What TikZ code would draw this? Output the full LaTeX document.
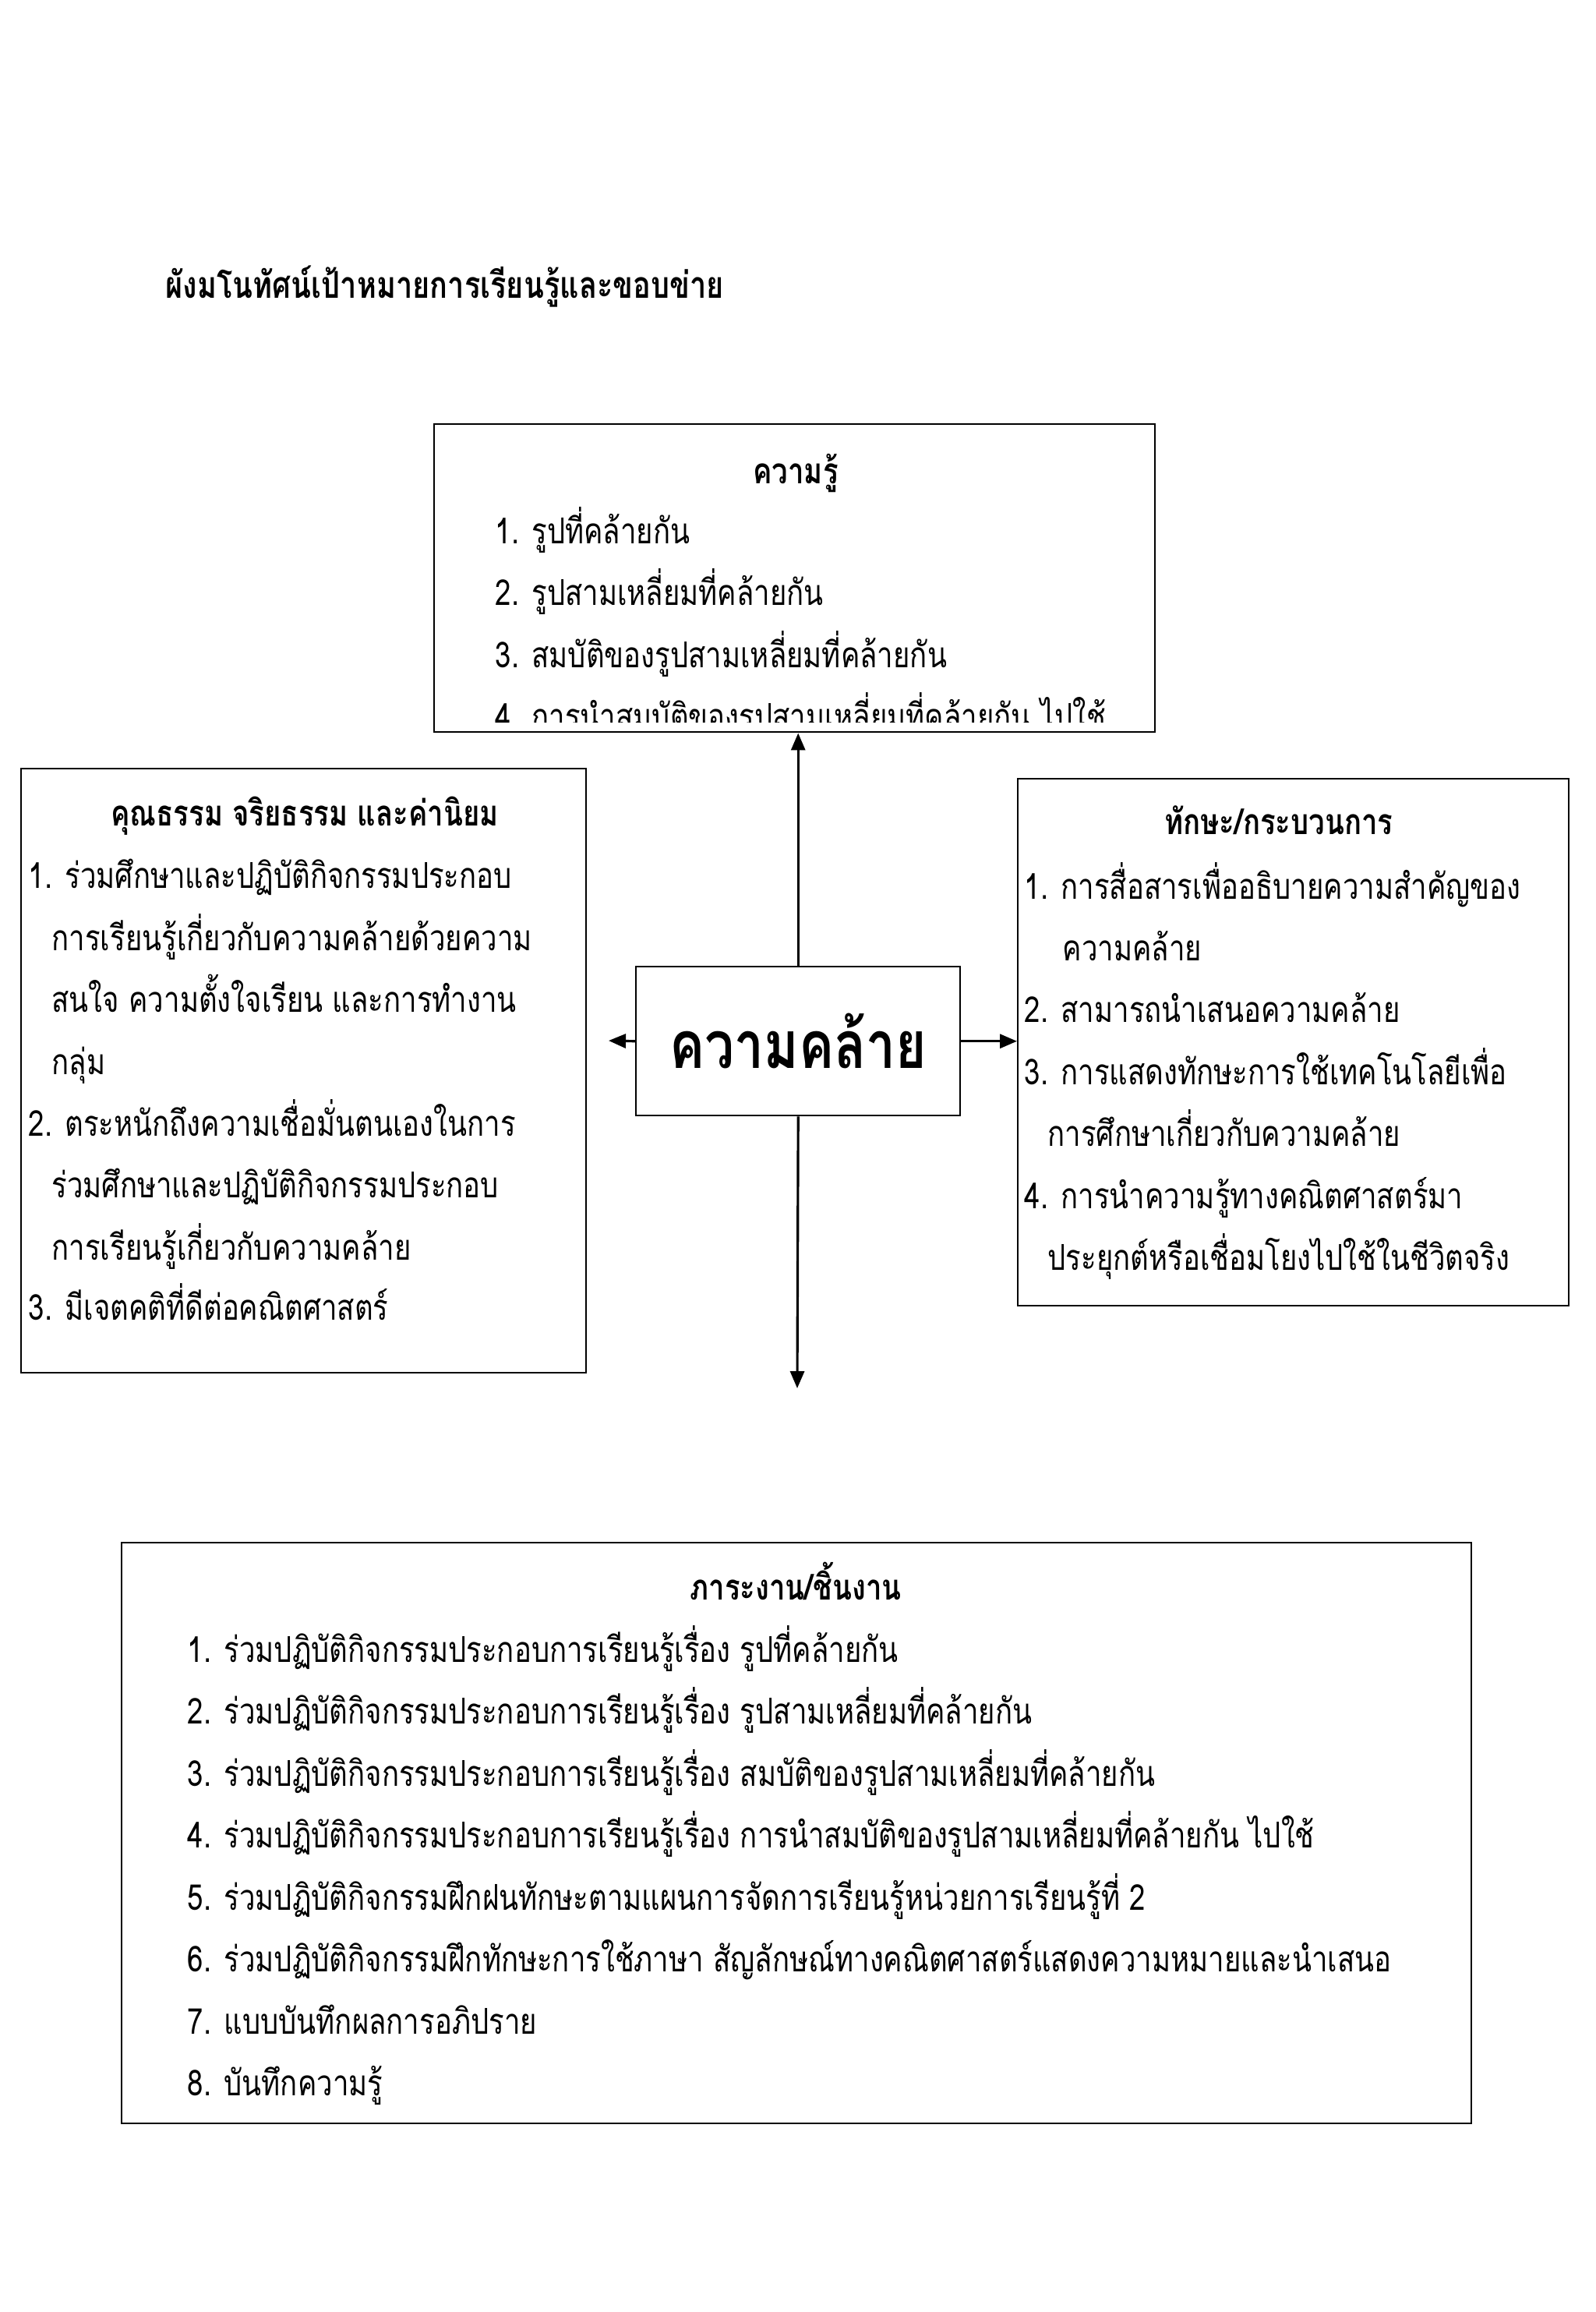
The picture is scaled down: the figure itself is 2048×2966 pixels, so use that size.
\documentclass[tikz,border=0pt]{standalone}
\usepackage{fontspec}
\setmainfont{Loma}[Script=Thai, FakeStretch=0.8]
\usetikzlibrary{arrows.meta}
\tikzset{
  boxst/.style={draw, line width=0.7pt, rectangle, inner sep=0pt, anchor=north west},
  bodyt/.style={anchor=base west, inner sep=0pt, yshift=-0.5mm, font=\fontsize{13pt}{15pt}\selectfont},
  headt/.style={anchor=base, inner sep=0pt, yshift=-0.4mm, font=\fontsize{13pt}{15pt}\selectfont\bfseries},
  arr/.style={line width=0.9pt, -{Triangle[length=2.2mm,width=1.8mm]}},
}
\begin{document}
\begin{tikzpicture}[x=0.1mm, y=-0.1mm]
\useasboundingbox (0,0) rectangle (2048,2966);
\fill[white] (0,0) rectangle (2048,2966);
% title
\node[anchor=base west, inner sep=0pt, font=\fontsize{13.5pt}{15pt}\selectfont\bfseries] (title) at (212,382) {ผังมโนทัศน์เป้าหมายการเรียนรู้และขอบข่าย};
% boxes
\node[boxst, minimum width=92.5mm, minimum height=39.5mm] (know) at (556,543) {};
\node[boxst, minimum width=72.5mm, minimum height=77.5mm] (moral) at (26,985) {};
\node[boxst, minimum width=70.7mm, minimum height=67.6mm] (skill) at (1305,998) {};
\node[boxst, minimum width=41.6mm, minimum height=19.1mm, font=\fontsize{24pt}{28pt}\selectfont\bfseries] (center) at (815,1239) {ความคล้าย};
\node[boxst, minimum width=173.2mm, minimum height=74.5mm] (task) at (155,1978) {};
% knowledge
\node[headt] (kh) at (1021,616) {ความรู้};
\node[bodyt] (k1) at (635,692) {1. รูปที่คล้ายกัน};
\node[bodyt] (k2) at (635,771) {2. รูปสามเหลี่ยมที่คล้ายกัน};
\node[bodyt] (k3) at (635,851) {3. สมบัติของรูปสามเหลี่ยมที่คล้ายกัน};
\begin{scope}
\clip (556,543) rectangle (1481,926);
\node[bodyt] (k4) at (635,930) {4. การนำสมบัติของรูปสามเหลี่ยมที่คล้ายกัน ไปใช้};
\end{scope}
% moral
\node[headt] (mh) at (391,1055) {คุณธรรม จริยธรรม และค่านิยม};
\node[bodyt] (m1) at (36,1134) {1. ร่วมศึกษาและปฏิบัติกิจกรรมประกอบ};
\node[bodyt] (m2) at (66,1214) {การเรียนรู้เกี่ยวกับความคล้ายด้วยความ};
\node[bodyt] (m3) at (66,1293) {สนใจ ความตั้งใจเรียน และการทำงาน};
\node[bodyt] (m4) at (66,1373) {กลุ่ม};
\node[bodyt] (m5) at (36,1452) {2. ตระหนักถึงความเชื่อมั่นตนเองในการ};
\node[bodyt] (m6) at (66,1531) {ร่วมศึกษาและปฏิบัติกิจกรรมประกอบ};
\node[bodyt] (m7) at (66,1611) {การเรียนรู้เกี่ยวกับความคล้าย};
\node[bodyt] (m8) at (36,1688) {3. มีเจตคติที่ดีต่อคณิตศาสตร์};
% skills
\node[headt] (sh) at (1641,1066) {ทักษะ/กระบวนการ};
\node[bodyt] (s1) at (1314,1148) {1. การสื่อสารเพื่ออธิบายความสำคัญของ};
\node[bodyt] (s2) at (1363,1227) {ความคล้าย};
\node[bodyt] (s3) at (1314,1306) {2. สามารถนำเสนอความคล้าย};
\node[bodyt] (s4) at (1314,1386) {3. การแสดงทักษะการใช้เทคโนโลยีเพื่อ};
\node[bodyt] (s5) at (1344,1465) {การศึกษาเกี่ยวกับความคล้าย};
\node[bodyt] (s6) at (1314,1545) {4. การนำความรู้ทางคณิตศาสตร์มา};
\node[bodyt] (s7) at (1344,1624) {ประยุกต์หรือเชื่อมโยงไปใช้ในชีวิตจริง};
% tasks
\node[headt] (th) at (1021,2048) {ภาระงาน/ชิ้นงาน};
\node[bodyt] (t1) at (240,2127) {1. ร่วมปฏิบัติกิจกรรมประกอบการเรียนรู้เรื่อง รูปที่คล้ายกัน};
\node[bodyt] (t2) at (240,2206) {2. ร่วมปฏิบัติกิจกรรมประกอบการเรียนรู้เรื่อง รูปสามเหลี่ยมที่คล้ายกัน};
\node[bodyt] (t3) at (240,2286) {3. ร่วมปฏิบัติกิจกรรมประกอบการเรียนรู้เรื่อง สมบัติของรูปสามเหลี่ยมที่คล้ายกัน};
\node[bodyt] (t4) at (240,2365) {4. ร่วมปฏิบัติกิจกรรมประกอบการเรียนรู้เรื่อง การนำสมบัติของรูปสามเหลี่ยมที่คล้ายกัน ไปใช้};
\node[bodyt] (t5) at (240,2445) {5. ร่วมปฏิบัติกิจกรรมฝึกฝนทักษะตามแผนการจัดการเรียนรู้หน่วยการเรียนรู้ที่ 2};
\node[bodyt] (t6) at (240,2524) {6. ร่วมปฏิบัติกิจกรรมฝึกทักษะการใช้ภาษา สัญลักษณ์ทางคณิตศาสตร์แสดงความหมายและนำเสนอ};
\node[bodyt] (t7) at (240,2604) {7. แบบบันทึกผลการอภิปราย};
\node[bodyt] (t8) at (240,2683) {8. บันทึกความรู้};
% connectors
\coordinate (lt) at (781,1335);
\coordinate (dn) at (1023,1781);
\draw[arr] (center.north) -- (center.north |- know.south);
\draw[arr] (center.west) -- (lt);
\draw[arr] (center.east) -- (skill.west |- center.east);
\draw[arr] (center.south) -- (dn);
\end{tikzpicture}
\end{document}
